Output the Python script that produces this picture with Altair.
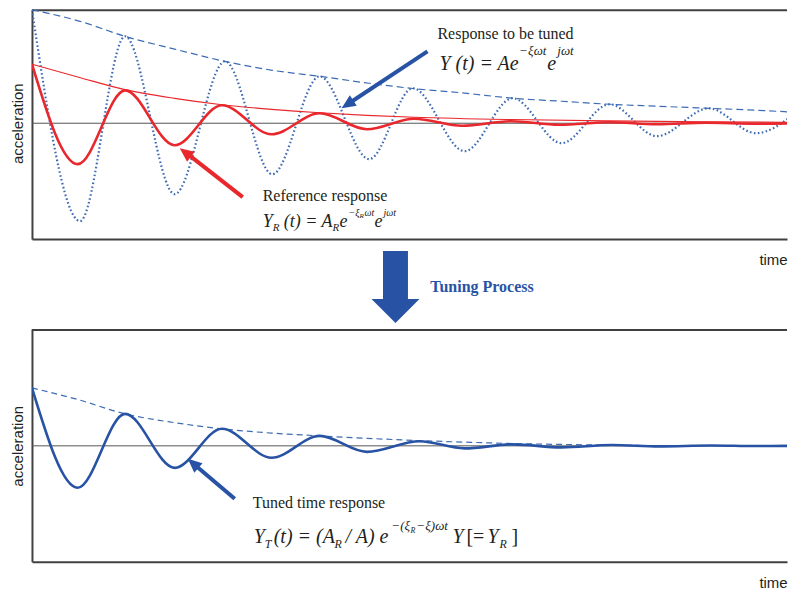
import altair as alt
import pandas as pd

# ---------------- data ----------------
# time axis: 0..10 across the panel, acceleration: relative units
# top panel: reference response (red, thick) and its envelope (red, thin)
T_RED = [0, 0.60, 1.22, 1.87, 2.49, 3.14, 3.77, 4.39, 5.01, 5.64, 6.28, 6.91, 7.57, 8.19, 8.83, 9.49, 10.0]
A_RED = [0.51, -0.353, 0.284, -0.19, 0.155, -0.095, 0.086, -0.052, 0.039, -0.022, 0.017, -0.013, 0.009, -0.008, 0.004, -0.004, 0.0]
T_ENV_R = [0, 0.60, 1.22, 1.87, 2.49, 3.14, 3.77, 4.39, 5.01, 6.28, 7.57, 8.83, 10.0]
A_ENV_R = [0.51, 0.40, 0.29, 0.215, 0.16, 0.12, 0.09, 0.068, 0.052, 0.032, 0.02, 0.012, 0.008]
# top panel: response to be tuned (blue, dotted) and its envelope (blue, dashed)
T_DOT = [0, 0.63, 1.22, 1.87, 2.53, 3.15, 3.77, 4.42, 4.99, 5.67, 6.30, 6.94, 7.57, 8.19, 8.87, 9.49, 10.0]
A_DOT = [0.98, -0.845, 0.75, -0.612, 0.534, -0.44, 0.405, -0.31, 0.302, -0.241, 0.216, -0.172, 0.164, -0.112, 0.129, -0.086, 0.086]
T_ENV_B = [0, 0.63, 1.22, 1.87, 2.53, 3.15, 3.77, 4.42, 4.99, 5.67, 6.30, 6.94, 7.57, 8.19, 8.87, 9.49, 10.0]
A_ENV_B = [0.98, 0.88, 0.75, 0.64, 0.534, 0.457, 0.405, 0.345, 0.30, 0.26, 0.216, 0.19, 0.164, 0.147, 0.129, 0.112, 0.095]
# bottom panel: tuned response (blue, solid) and its envelope (blue, dashed)
T_TUNED = [0, 0.60, 1.22, 1.87, 2.49, 3.14, 3.77, 4.39, 5.08, 5.67, 6.30, 6.94, 7.60, 8.22, 8.90, 9.50, 10.0]
A_TUNED = [0.50, -0.362, 0.276, -0.19, 0.147, -0.103, 0.086, -0.052, 0.039, -0.022, 0.013, -0.013, 0.007, -0.005, 0.003, -0.002, 0.0]
T_ENV_T = [0, 0.60, 1.22, 1.87, 2.49, 3.14, 3.77, 4.39, 5.08, 5.67, 6.30, 6.94, 7.60, 8.45]
A_ENV_T = [0.50, 0.40, 0.276, 0.20, 0.147, 0.11, 0.086, 0.065, 0.045, 0.032, 0.02, 0.012, 0.006, 0.0]

# annotation arrows: tail, line end, tip (time, acceleration)
ARROW_TOP_BLUE = {"t": [5.183, 4.166], "a": [0.621, 0.177], "tip": (4.058, 0.129), "angle": 236.5}
ARROW_TOP_RED = {"t": [2.762, 2.042], "a": [-0.638, -0.267], "tip": (1.937, -0.216), "angle": 307.3}
ARROW_BOT_BLUE = {"t": [2.657, 2.147], "a": [-0.457, -0.172], "tip": (2.042, -0.112), "angle": 310.6}

# annotation anchors (time, acceleration) and text pieces (text, dx, dy, size, style)
NOTE_TOP = (5.314, 0.724)
PIECES_TOP = [
    ("Response to be tuned", 0, 0, 16, "normal"),
    ("Y (t) = Ae", 2, 31, 20, "italic"),
    ("\u2212\u03be\u03c9t", 82, 16, 13, "italic"),
    ("e", 110, 31, 20, "italic"),
    ("j\u03c9t", 120, 16, 13, "italic"),
]
NOTE_REF = (3.024, -0.672)
PIECES_REF = [
    ("Reference response", 0, 0, 16, "normal"),
    ("Y", 0, 26, 18, "italic"),
    ("R", 10, 30, 11, "italic"),
    ("(t) = A", 21, 26, 18, "italic"),
    ("R", 70, 30, 11, "italic"),
    ("e", 77, 26, 18, "italic"),
    ("\u2212\u03be", 86, 15, 10, "italic"),
    ("R", 97, 17, 7, "italic"),
    ("\u03c9t", 102, 15, 10, "italic"),
    ("e", 112, 26, 18, "italic"),
    ("j\u03c9t", 121, 15, 10, "italic"),
]
NOTE_TUNED = (2.893, -0.534)
PIECES_TUNED = [
    ("Tuned time response", 0, 0, 16, "normal"),
    ("Y", 1, 35, 20, "italic"),
    ("T", 12, 40, 12, "italic"),
    ("(t) = (A", 21, 35, 20, "italic"),
    ("R", 82, 40, 12, "italic"),
    ("/ A) e", 93, 35, 20, "italic"),
    ("\u2212(\u03be", 139, 22, 13, "italic"),
    ("R", 158, 25, 8, "italic"),
    ("\u2212\u03be)\u03c9t", 164, 22, 13, "italic"),
    ("Y", 200, 35, 20, "italic"),
    ("[=", 214, 35, 20, "normal"),
    ("Y", 235, 35, 20, "italic"),
    ("R", 247, 40, 12, "italic"),
    ("]", 259, 35, 20, "normal"),
]
TUNING_LABEL = (5.22, 1.328)
BIG_ARROW = (4.764, 1.371)

# ---------------- style ----------------
W = 756
H_TOP = 230
H_BOT = 233
X_DOM = [0, 9.895]
Y_DOM_TOP = [-1.0, 0.983]
Y_DOM_BOT = [-1.0, 1.009]
SERIF = "Liberation Serif"
SANS = "Liberation Sans"
FRAME = "#404040"
TXT = "#231f20"
RED = "#e8282d"
BLUE_LINE = "#3e6cb4"
BLUE_DARK = "#2853a5"
HEAD = "M0,0L0.45,1L-0.45,1Z"
BIG = "M-0.347,-1L0.347,-1L0.347,0.333L0.667,0.333L0,1L-0.667,0.333L-0.347,0.333Z"


def X(title_y):
    return alt.X("t:Q", scale=alt.Scale(domain=X_DOM, nice=False, zero=False),
                 axis=alt.Axis(title="time", labels=False, ticks=False, grid=False,
                               domainColor=FRAME, domainWidth=2,
                               titleX=742, titleY=title_y, titleAlign="center",
                               titleBaseline="middle", titleFont=SANS, titleFontSize=15,
                               titleFontWeight="normal", titleColor=TXT))


def Y(dom, title_y):
    return alt.Y("a:Q", scale=alt.Scale(domain=dom, nice=False, zero=False),
                 axis=alt.Axis(title="acceleration", labels=False, ticks=False, grid=False,
                               domainColor=FRAME, domainWidth=2, titleAngle=270,
                               titleX=-14, titleY=title_y, titleAlign="center",
                               titleBaseline="middle", titleFont=SANS, titleFontSize=15,
                               titleFontWeight="normal", titleColor=TXT))


def panel_layers(xe, ye):
    zero = alt.Chart(pd.DataFrame({"a": [0.0]})).mark_rule(color="#555555", strokeWidth=1).encode(y=ye)
    top = alt.Chart(pd.DataFrame({"a": [0.0]})).mark_rule(color=FRAME, strokeWidth=2).encode(
        y=alt.value(1), x=alt.value(0), x2=alt.value(W))
    return [zero, top]


def curve(ts, vals, xe, ye, **kw):
    return alt.Chart(pd.DataFrame({"t": ts, "a": vals})).mark_line(
        interpolate="monotone", clip=True, **kw).encode(x=xe, y=ye)


def arrow(spec, color, xe, ye):
    line = alt.Chart(pd.DataFrame({"t": spec["t"], "a": spec["a"]})).mark_line(
        color=color, strokeWidth=4, strokeCap="butt").encode(x=xe, y=ye)
    tip = alt.Chart(pd.DataFrame({"t": [spec["tip"][0]], "a": [spec["tip"][1]]})).mark_point(
        shape=HEAD, size=784, filled=True, color=color, opacity=1, strokeWidth=0,
        angle=spec["angle"]).encode(x=xe, y=ye)
    return [line, tip]


def note(anchor, pieces, xe, ye):
    df = pd.DataFrame({"t": [anchor[0]], "a": [anchor[1]]})
    out = []
    for text, dx, dy, size, style in pieces:
        out.append(alt.Chart(df).mark_text(
            text=text, dx=dx, dy=dy, fontSize=size, font=SERIF, fontStyle=style,
            align="left", baseline="alphabetic", color=TXT).encode(x=xe, y=ye))
    return out


# ---------------- top panel ----------------
xt = X(20)
yt = Y(Y_DOM_TOP, 114)
top_layers = panel_layers(xt, yt) + [
    curve(T_ENV_B, A_ENV_B, xt, yt, color=BLUE_LINE, strokeWidth=1.2, strokeDash=[7, 4]),
    curve(T_DOT, A_DOT, xt, yt, color=BLUE_LINE, strokeWidth=2.2, strokeDash=[1.6, 2.4]),
    curve(T_ENV_R, A_ENV_R, xt, yt, color=RED, strokeWidth=1.1),
    curve(T_RED, A_RED, xt, yt, color=RED, strokeWidth=2.6),
] + arrow(ARROW_TOP_BLUE, BLUE_DARK, xt, yt) + arrow(ARROW_TOP_RED, RED, xt, yt) \
  + note(NOTE_TOP, PIECES_TOP, xt, yt) + note(NOTE_REF, PIECES_REF, xt, yt)
top_chart = alt.layer(*top_layers).properties(width=W, height=H_TOP)

# ---------------- bottom panel ----------------
xb = X(21)
yb = Y(Y_DOM_BOT, 117)
big = alt.Chart(pd.DataFrame({"t": [BIG_ARROW[0]], "a": [BIG_ARROW[1]]})).mark_point(
    shape=BIG, size=5184, filled=True, color=BLUE_DARK, opacity=1, strokeWidth=0).encode(x=xb, y=yb)
tuning = alt.Chart(pd.DataFrame({"t": [TUNING_LABEL[0]], "a": [TUNING_LABEL[1]]})).mark_text(
    text="Tuning Process", font=SERIF, fontWeight="bold", fontSize=16, color=BLUE_DARK,
    align="left", baseline="alphabetic").encode(x=xb, y=yb)
bot_layers = panel_layers(xb, yb) + [
    curve(T_ENV_T, A_ENV_T, xb, yb, color=BLUE_LINE, strokeWidth=1.2, strokeDash=[6, 4]),
    curve(T_TUNED, A_TUNED, xb, yb, color=BLUE_DARK, strokeWidth=2.6),
] + arrow(ARROW_BOT_BLUE, BLUE_DARK, xb, yb) + note(NOTE_TUNED, PIECES_TUNED, xb, yb) + [big, tuning]
bot_chart = alt.layer(*bot_layers).properties(width=W, height=H_BOT)

chart = alt.vconcat(top_chart, bot_chart, spacing=90, bounds="flush").properties(
    padding={"left": 2, "top": 0, "right": 0, "bottom": 0}
).configure_view(stroke="transparent")

chart.save("out.html", embed_options={"renderer": "svg", "actions": False})
